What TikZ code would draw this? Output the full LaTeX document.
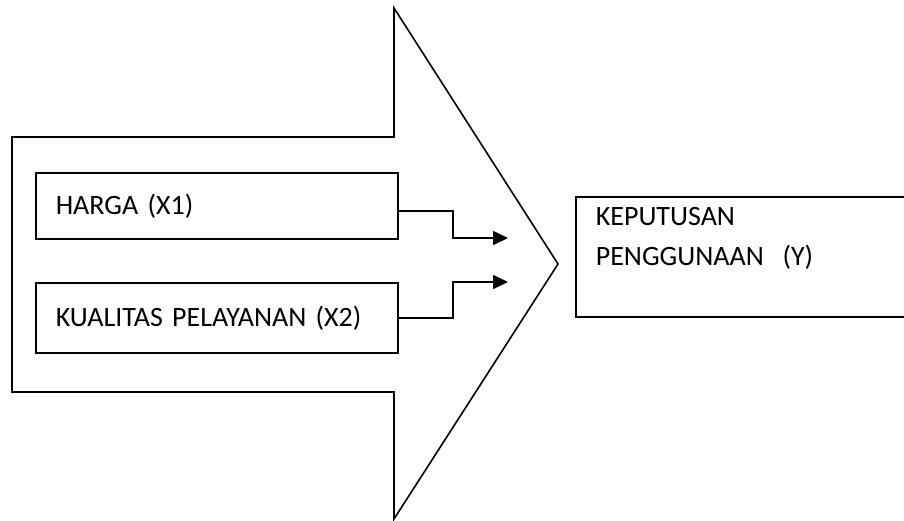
\documentclass[tikz,border=0pt]{standalone}
\usepackage{fontspec}
\setmainfont[WordSpace=0.8]{Carlito}
\usepackage{tikz}
\usetikzlibrary{arrows.meta, calc}

\begin{document}
\begin{tikzpicture}[x=1pt, y=-1pt,
          varbox/.style={rectangle, draw=black, line width=1.6pt,
                         anchor=north west, inner xsep=20pt,
                         font={\fontsize{28}{40}\selectfont}},
          arr/.style={-{Triangle[length=15pt, width=14pt]}, line width=1.6pt}
        ]
        \useasboundingbox (0,0) rectangle (904,520);
        \clip (0,0) rectangle (904,520);

        % big arrow behind the inputs
        \draw[line width=1.6pt, line join=miter]
              (12,137) -- (394,137) -- (394,8) -- (558,264)
              -- (394,519) -- (394,392) -- (12,392) -- cycle;

        % independent variables
        \node[varbox, minimum width=362pt, minimum height=66pt,
              text width=322pt, align=left] (harga) at (35,172)
              {HARGA (X1)};
        \node[varbox, minimum width=362pt, minimum height=70pt,
              text width=322pt, align=left] (kualitas) at (35,282)
              {KUALITAS PELAYANAN (X2)};

        % dependent variable (runs off the right edge)
        \node[varbox, minimum width=345pt, minimum height=120pt,
              text width=305pt, align=left] (keputusan) at (575,196)
              {KEPUTUSAN\\PENGGUNAAN\ \ (Y)\\\mbox{}};

        \coordinate (in1) at (508,238);
        \coordinate (in2) at (508,282);

        \draw[arr] ([yshift=-5pt]harga.east) -| ($(in1)+(-55,0)$) -- (in1);
        \draw[arr] (kualitas.east) -| ($(in2)+(-55,0)$) -- (in2);
      \end{tikzpicture}
\end{document}
